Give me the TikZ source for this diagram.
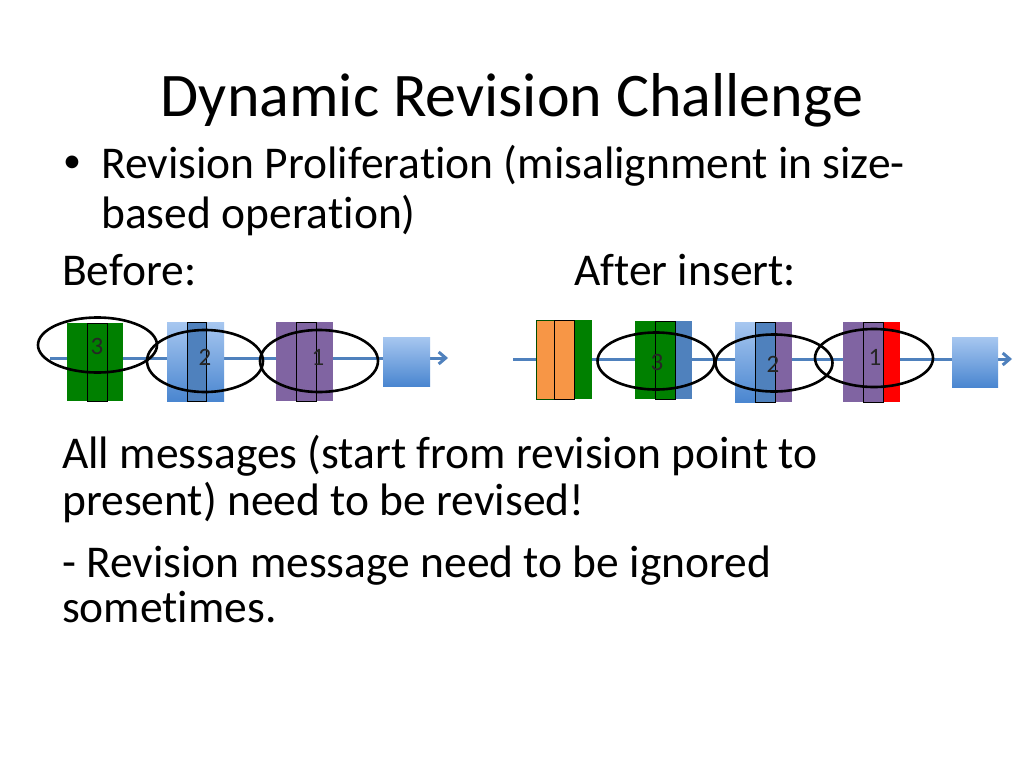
\documentclass[tikz,border=0pt]{standalone}
\usepackage{fontspec}
\setmainfont{Carlito}[Ligatures=NoCommon]
\usetikzlibrary{arrows.meta}

\definecolor{msggreen}{RGB}{0,128,0}
\definecolor{msgsteel}{RGB}{79,129,189}
\definecolor{msglight}{RGB}{167,199,240}
\definecolor{msgdeep}{RGB}{74,134,208}
\definecolor{msgpurple}{RGB}{128,100,162}
\definecolor{msgorange}{RGB}{247,150,70}
\definecolor{msgred}{RGB}{255,0,0}

\tikzset{
  title/.style={font=\fontsize{62}{70}\selectfont, anchor=base, inner sep=0pt},
  body/.style={font=\fontsize{45.5}{50}\selectfont, anchor=base west, inner sep=0pt},
  flow/.style={draw=msgsteel, line width=3pt, -{Straight Barb[length=7pt, width=12pt]}},
  cur/.style={draw=black, line width=0.8pt},
  light/.style={top color=msglight, bottom color=msgdeep},
  ring/.style={draw=black, line width=2.6pt},
  num/.style={font=\fontsize{25}{25}\selectfont, text=black!85, inner sep=0pt}
}

\begin{document}
\begin{tikzpicture}[x=1pt, y=-1pt]
  \useasboundingbox[fill=white] (0,0) rectangle (1024,768);

  % text
  \node[title] (head) at (512,116) {Dynamic Revision Challenge};
  \node[body, font=\fontsize{36}{40}\selectfont] (dot) at (63,172) {\textbullet};
  \node[body] (p1a) at (101,178) {Revision Proliferation (misalignment in size-};
  \node[body] (p1b) at (101,228) {based operation)};
  \node[body] (before) at (62,285) {Before:};
  \node[body] (after) at (574,285) {After insert:};
  \node[body] (p2a) at (62,468) {All messages (start from revision point to};
  \node[body] (p2b) at (62,515) {present) need to be revised!};
  \node[body] (p3a) at (62,577) {- Revision message need to be ignored};
  \node[body] (p3b) at (62,622) {sometimes.};

  % before
  \coordinate (b0) at (50,358);
  \coordinate (b1) at (448,358);
  \draw[flow] (b0) -- (b1);
  \fill[msggreen] (67,323) rectangle (87,401);
  \fill[msggreen] (107,323) rectangle (123,401);
  \filldraw[msggreen, cur] (87,323) rectangle (107,401);
  \shade[light] (167,322) rectangle (187,401);
  \shade[light] (206,322) rectangle (224,401);
  \filldraw[msgsteel, cur] (187,322) rectangle (206,401);
  \fill[msgpurple] (276,322) rectangle (296,401);
  \fill[msgpurple] (316,322) rectangle (333,401);
  \filldraw[msgpurple, cur] (296,322) rectangle (316,401);
  \shade[light] (383,337) rectangle (430,386);
  \draw[ring] (97.5,345) ellipse [x radius=59.5, y radius=27.5];
  \draw[ring] (205,361) ellipse [x radius=58, y radius=31];
  \draw[ring] (319,361) ellipse [x radius=59, y radius=31];
  \node[num] (b3) at (97,346) {3};
  \node[num] (b2) at (205,357) {2};
  \node[num] (b1n) at (318,357) {1};

  % after insert
  \coordinate (a0) at (513,359);
  \coordinate (a1) at (1012,359);
  \draw[flow] (a0) -- (a1);
  \fill[msgorange] (536,320) rectangle (554,399);
  \draw[msggreen!60!black, line width=0.6pt] (536,320) rectangle (554,399);
  \fill[msggreen] (574,320) rectangle (592,399);
  \filldraw[msgorange, cur] (554,320) rectangle (574,399);
  \fill[msggreen] (635,321) rectangle (655,399);
  \fill[msgsteel] (675,321) rectangle (692,399);
  \filldraw[msggreen, cur] (655,321) rectangle (675,399);
  \shade[light] (735,322) rectangle (755,402);
  \fill[msgpurple] (775,322) rectangle (792,402);
  \filldraw[msgsteel, cur] (755,322) rectangle (775,402);
  \fill[msgpurple] (843,322) rectangle (863,402);
  \fill[msgred] (883,322) rectangle (900,402);
  \filldraw[msgpurple, cur] (863,322) rectangle (883,402);
  \shade[light] (952,337) rectangle (998,387);
  \draw[ring] (656,361) ellipse [x radius=58.5, y radius=28.5];
  \draw[ring] (774,363) ellipse [x radius=58.5, y radius=28.5];
  \draw[ring] (874,358) ellipse [x radius=59, y radius=29];
  \node[num] (a3) at (657,362) {3};
  \node[num] (a2) at (773,364) {2};
  \node[num] (a1n) at (875,357) {1};
\end{tikzpicture}
\end{document}
